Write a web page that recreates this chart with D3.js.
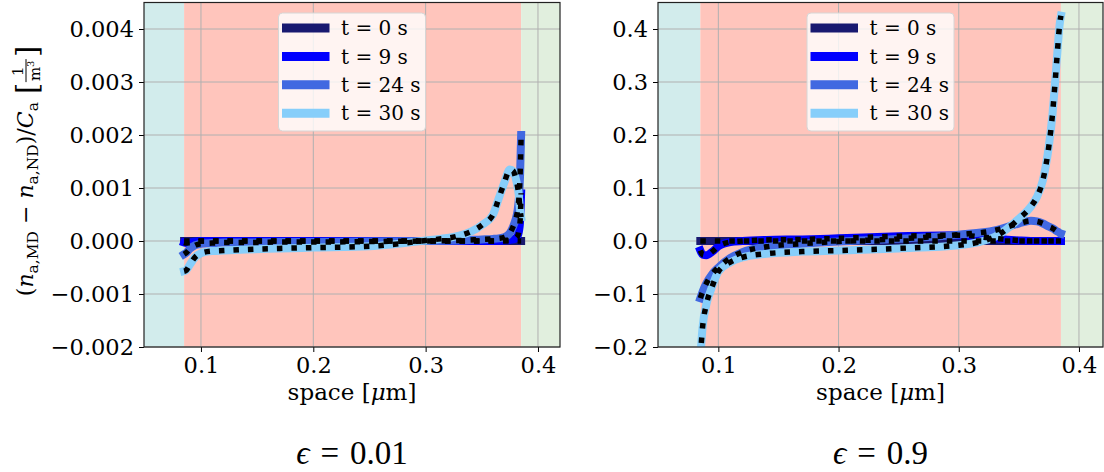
<!DOCTYPE html>
<html lang="en">
<head>
<meta charset="UTF-8">
<title>MD vs ND difference profiles</title>
<style>
  body { margin: 0; background: #fff; }
  svg text { font-family: "DejaVu Serif", serif; fill: #000; }
</style>
</head>
<body>
<svg id="chart" width="1104" height="472"></svg>
<script src="https://d3js.org/d3.v7.min.js"></script>
<script>
// sample positions along space [um], shared by both panels
const spacePoints = [0.085, 0.087, 0.09, 0.095, 0.1, 0.11, 0.12, 0.14, 0.17, 0.2, 0.25, 0.3,
                     0.33, 0.35, 0.36, 0.365, 0.37, 0.375, 0.378, 0.38, 0.382, 0.383, 0.384, 0.385];
const timeLabels = ["t = 0 s", "t = 9 s", "t = 24 s", "t = 30 s"];

// epsilon = 0.01
const lowEpsT0  = [0, 0, 0, 0, 0, 0, 0, 0, 0, 0, 0, 0, 0, 0, 0, 0, 0, 0, 0, 0, 0, 0, 0, 0];
const lowEpsT9  = [-0.00003, -0.00004, -0.00003, -0.00001, 0, 0, 0, 0, 0, 0, 0, 0,
                   0, 0, 0, 0, 0.00001, 0.00002, 0.00003, 0.00005, 0.0001, 0.00018, 0.00035, 0.0009];
const lowEpsT24 = [-0.00025, -0.00022, -0.00015, -0.00008, -0.00005, -0.00004, -0.00003, -0.00003, -0.00002, -0.00002, -0.00001, 0,
                   0.00001, 0.00003, 0.00004, 0.00005, 0.00007, 0.00015, 0.00028, 0.0004, 0.0006, 0.0008, 0.0012, 0.002];
const lowEpsT30 = [-0.00057, -0.00055, -0.00045, -0.0003, -0.00023, -0.00019, -0.00018, -0.00016, -0.00014, -0.000125, -0.0001, 0.00001,
                   0.0001, 0.0003, 0.0005, 0.0008, 0.0011, 0.00135, 0.00132, 0.0012, 0.001, 0.00085, 0.0006, 0.00045];

// epsilon = 0.9
const highEpsT0  = [0, 0, 0, 0, 0, 0, 0, 0, 0, 0, 0, 0, 0, 0, 0, 0, 0, 0, 0, 0, 0, 0, 0, 0];
const highEpsT9  = [-0.018, -0.026, -0.027, -0.02, -0.01, -0.002, 0, 0.002, 0.003, 0.005, 0.009, 0.011,
                    0.005, 0.001, 0, 0, 0, 0, 0, 0, 0, 0, 0, 0];
const highEpsT24 = [-0.108, -0.095, -0.08, -0.062, -0.05, -0.032, -0.021, -0.011, -0.005, -0.001, 0.004, 0.012,
                    0.02, 0.033, 0.038, 0.037, 0.033, 0.027, 0.024, 0.021, 0.018, 0.017, 0.015, 0.014];
const highEpsT30 = [-0.22, -0.16, -0.12, -0.085, -0.058, -0.04, -0.031, -0.024, -0.02, -0.018, -0.014, -0.008,
                    0.008, 0.042, 0.065, 0.083, 0.115, 0.18, 0.24, 0.295, 0.355, 0.385, 0.41, 0.425];

const xTicks = [0.1, 0.2, 0.3, 0.4];
const lowEpsYTicks = [-0.002, -0.001, 0, 0.001, 0.002, 0.003, 0.004];
const highEpsYTicks = [-0.2, -0.1, 0, 0.1, 0.2, 0.3, 0.4];
const regionEdges = [0.085, 0.385];   // wall | domain | wall

const seriesColors = ["#191970", "#0000ff", "#4169e1", "#87cefa"];
const regionColors = ["#d2ecec", "#ffc5bc", "#e1efde"];

const svg = d3.select("#chart");

const panels = [
  { left: 144, right: 560, top: 2.5, bottom: 347,
    xDomain: [0.0493, 0.4196], yDomain: [-0.002, 0.0045],
    yTicks: lowEpsYTicks, yFormat: d3.format(".3f"),
    series: [lowEpsT0, lowEpsT9, lowEpsT24, lowEpsT30],
    title: "0.01", yLabel: true },
  { left: 658, right: 1103, top: 2.5, bottom: 347,
    xDomain: [0.0498, 0.42], yDomain: [-0.2, 0.45],
    yTicks: highEpsYTicks, yFormat: d3.format(".1f"),
    series: [highEpsT0, highEpsT9, highEpsT24, highEpsT30],
    title: "0.9", yLabel: false }
];

panels.forEach((p, pi) => {
  const x = d3.scaleLinear().domain(p.xDomain).range([p.left, p.right]);
  const y = d3.scaleLinear().domain(p.yDomain).range([p.bottom, p.top]);
  const g = svg.append("g");

  // shaded regions
  const edges = [p.xDomain[0], regionEdges[0], regionEdges[1], p.xDomain[1]];
  for (let i = 0; i < 3; i++) {
    g.append("rect")
      .attr("x", x(edges[i])).attr("y", p.top)
      .attr("width", x(edges[i + 1]) - x(edges[i]))
      .attr("height", p.bottom - p.top)
      .attr("fill", regionColors[i]);
  }

  // grid
  g.selectAll(".gx").data(xTicks).join("line")
    .attr("x1", d => x(d)).attr("x2", d => x(d))
    .attr("y1", p.top).attr("y2", p.bottom)
    .attr("stroke", "#b0b0b0").attr("stroke-width", 1);
  g.selectAll(".gy").data(p.yTicks).join("line")
    .attr("x1", p.left).attr("x2", p.right)
    .attr("y1", d => y(d)).attr("y2", d => y(d))
    .attr("stroke", "#b0b0b0").attr("stroke-width", 1);

  // curves
  const clipId = "clip" + pi;
  svg.append("clipPath").attr("id", clipId).append("rect")
    .attr("x", p.left).attr("y", p.top)
    .attr("width", p.right - p.left).attr("height", p.bottom - p.top);
  const curves = g.append("g").attr("clip-path", `url(#${clipId})`);
  const line = d3.line()
    .x((d, i) => x(spacePoints[i]))
    .y(d => y(d))
    .curve(d3.curveMonotoneX);

  p.series.forEach((vals, si) => {
    curves.append("path")
      .attr("d", line(vals))
      .attr("fill", "none")
      .attr("stroke", seriesColors[si])
      .attr("stroke-width", 8)
      .attr("stroke-linecap", "square")
      .attr("stroke-linejoin", "round");
  });
  p.series.forEach(vals => {
    curves.append("path")
      .attr("d", line(vals))
      .attr("fill", "none")
      .attr("stroke", "#000")
      .attr("stroke-width", 5.5)
      .attr("stroke-dasharray", "5.5,9")
      .attr("stroke-linecap", "butt");
  });

  // axes
  const xAxis = g.append("g")
    .attr("transform", `translate(0,${p.bottom})`)
    .call(d3.axisBottom(x).tickValues(xTicks).tickFormat(d3.format(".1f")).tickSize(5).tickPadding(5));
  const yAxis = g.append("g")
    .attr("transform", `translate(${p.left},0)`)
    .call(d3.axisLeft(y).tickValues(p.yTicks).tickFormat(p.yFormat).tickSize(5).tickPadding(5));
  [xAxis, yAxis].forEach(a => {
    a.select(".domain").remove();
    a.selectAll("line").attr("stroke", "#000");
    a.selectAll("text").style("font-family", "DejaVu Serif").style("font-size", "22.5px");
  });

  // frame
  g.append("rect")
    .attr("x", p.left).attr("y", p.top)
    .attr("width", p.right - p.left).attr("height", p.bottom - p.top)
    .attr("fill", "none").attr("stroke", "#222").attr("stroke-width", 1.2);

  // legend
  const cx = (p.left + p.right) / 2;
  const lg = g.append("g").attr("transform", `translate(${cx - 73.5},13)`);
  lg.append("rect")
    .attr("width", 147).attr("height", 118).attr("rx", 4)
    .attr("fill", "#fff").attr("fill-opacity", 0.8)
    .attr("stroke", "#d6d6d6").attr("stroke-width", 1);
  timeLabels.forEach((lab, i) => {
    const yy = 15 + i * 28.4;
    lg.append("line")
      .attr("x1", 3.5).attr("x2", 51).attr("y1", yy).attr("y2", yy)
      .attr("stroke", seriesColors[i]).attr("stroke-width", 9);
    lg.append("text")
      .attr("x", 62.5).attr("y", yy).attr("dy", "0.36em")
      .style("font-size", "20px")
      .text(lab);
  });

  // x label
  const xl = g.append("text")
    .attr("x", cx).attr("y", 400)
    .attr("text-anchor", "middle")
    .style("font-size", "23px");
  xl.append("tspan").text("space [");
  xl.append("tspan").style("font-style", "italic").text("μ");
  xl.append("tspan").text("m]");

  // panel title
  const tt = g.append("text")
    .attr("x", cx).attr("y", 464)
    .attr("text-anchor", "middle")
    .style("font-family", "Liberation Serif")
    .style("font-size", "33px");
  tt.append("tspan").style("font-style", "italic").text("ϵ");
  tt.append("tspan").text("\u2004=\u2004" + p.title);

  if (p.yLabel) {
    const yl = svg.append("g");
    const inner = yl.append("g");
    const t = inner.append("text").attr("x", 0).attr("y", 0).style("font-size", "22px");
    const sub = (txt) => {
      t.append("tspan").attr("dy", 5).style("font-size", "15.5px").text(txt);
    };
    t.append("tspan").text("(");
    t.append("tspan").style("font-style", "italic").text("n");
    sub("a,MD");
    t.append("tspan").attr("dy", -5).text(" − ");
    t.append("tspan").style("font-style", "italic").text("n");
    sub("a,ND");
    t.append("tspan").attr("dy", -5).text(")/");
    t.append("tspan").style("font-style", "italic").text("C");
    sub("a");
    const w = t.node().getComputedTextLength() + 8;
    inner.append("text").attr("x", w).attr("y", 4).style("font-size", "29px").text("[");
    const fx = w + 12;
    inner.append("text").attr("x", fx + 11).attr("y", -10)
      .attr("text-anchor", "middle").style("font-size", "15px").text("1");
    inner.append("line").attr("x1", fx).attr("x2", fx + 23)
      .attr("y1", -6.5).attr("y2", -6.5).attr("stroke", "#000").attr("stroke-width", 1);
    const den = inner.append("text").attr("x", fx + 1).attr("y", 7).style("font-size", "15px");
    den.append("tspan").text("m");
    den.append("tspan").attr("dy", -6).style("font-size", "10px").text("3");
    inner.append("text").attr("x", fx + 25).attr("y", 4).style("font-size", "29px").text("]");
    const bb = inner.node().getBBox();
    inner.attr("transform", `translate(${-bb.x - bb.width / 2},${-bb.y - bb.height / 2})`);
    yl.attr("transform", `translate(26,171) rotate(-90)`);
  }
});
</script>
</body>
</html>
